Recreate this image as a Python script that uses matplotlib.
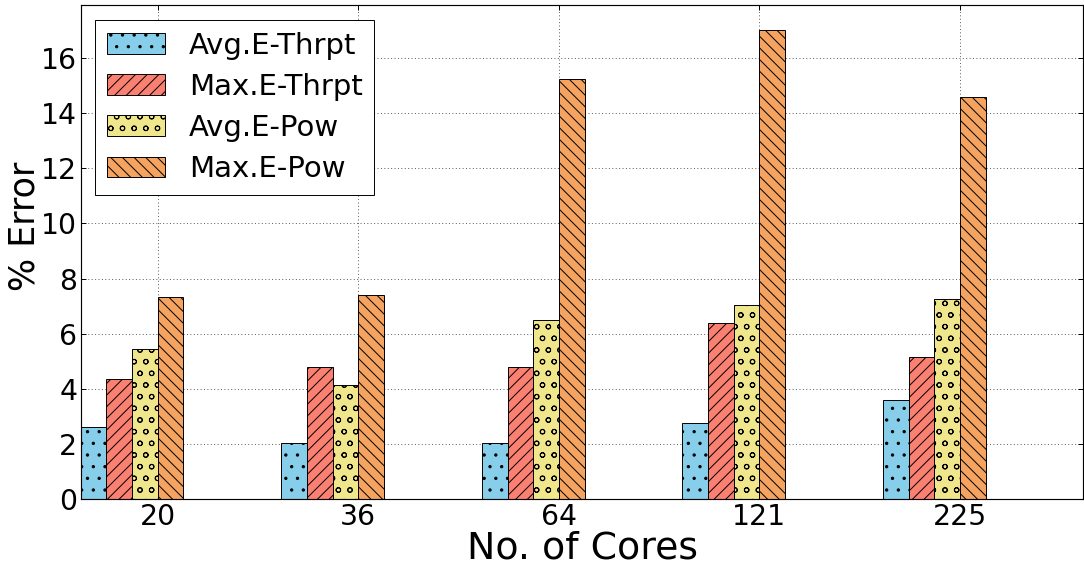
import numpy as np
import matplotlib
matplotlib.use("Agg")
import matplotlib.pyplot as plt

# ---- data ---------------------------------------------------------------
cores = ["20", "36", "64", "121", "225"]
avg_thrpt = [2.63, 2.04, 2.03, 2.77, 3.58]
max_thrpt = [4.36, 4.78, 4.81, 6.39, 5.16]
avg_pow = [5.44, 4.13, 6.50, 7.03, 7.24]
max_pow = [7.33, 7.41, 15.22, 16.99, 14.57]

series = [
    ("Avg.E-Thrpt", avg_thrpt, "#87CEEB", "."),
    ("Max.E-Thrpt", max_thrpt, "#FA8072", "//"),
    ("Avg.E-Pow", avg_pow, "#F0E68C", "o"),
    ("Max.E-Pow", max_pow, "#F4A460", "\\\\"),
]

plt.rcParams["hatch.linewidth"] = 1.0
dpi = 70
fig = plt.figure(figsize=(1084 / dpi, 571 / dpi), dpi=dpi)
ax = fig.add_axes([0.0745, 0.1256, 0.9250, 0.8651])

ind = np.arange(len(cores))
width = 0.128
for k, (label, vals, color, hatch) in enumerate(series):
    ax.bar(ind + k * width, vals, width, align="edge", color=color,
           edgecolor="black", linewidth=1.0, hatch=hatch, label=label,
           zorder=2)

ax.set_xlim(0, 5)
ax.set_ylim(0, 17.9)
ax.set_xticks(ind + 3 * width)
ax.set_xticklabels(cores)
ax.set_yticks(np.arange(0, 17, 2))
ax.tick_params(direction="in", top=True, right=True, labelsize=29,
               length=5, width=1)
ax.grid(True, color="0.35", linestyle=(0, (1, 2.5)), linewidth=1.0,
        zorder=0)
ax.set_axisbelow(True)
for s in ax.spines.values():
    s.set_linewidth(1.2)

ax.set_xlabel("No. of Cores", fontsize=39, labelpad=0)
ax.set_ylabel("% Error", fontsize=36, va="center")
ax.yaxis.set_label_coords(-0.056, 0.553)

leg = ax.legend(loc="upper left", fontsize=30, fancybox=False,
                edgecolor="black", framealpha=1, handlelength=2.0,
                handleheight=0.7, labelspacing=0.45, borderaxespad=0.5)
leg.get_frame().set_linewidth(1.0)

fig.savefig("out.png", dpi=dpi)
